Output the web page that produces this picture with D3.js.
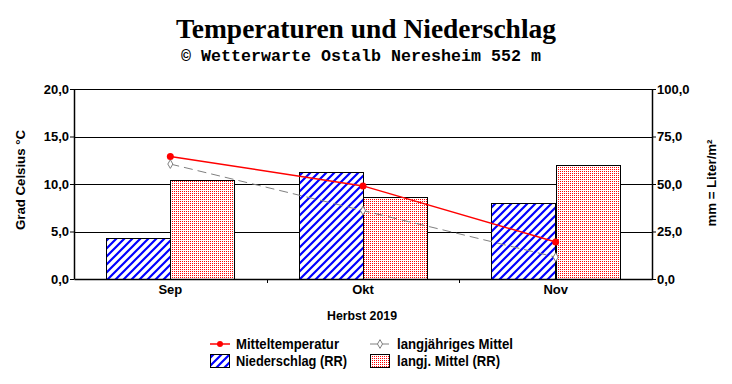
<!DOCTYPE html>
<html>
<head>
<meta charset="utf-8">
<script src="https://cdn.jsdelivr.net/npm/d3@7"></script>
<style>
  body { margin: 0; background: #fff; }
  svg { display: block; }
  text { font-family: "Liberation Sans", Arial, sans-serif; }
</style>
</head>
<body>
<div></div>
<script>
// chart data
const months = ["Sep", "Okt", "Nov"];
const tempMean = [12.9, 9.8, 3.9];       // Mitteltemperatur
const tempLongterm = [12.1, 7.2, 2.3];   // langjähriges Mittel
const rain = [21.5, 56.2, 39.8];         // Niederschlag (RR)
const rainLongterm = [52.0, 43.0, 60.0]; // langj. Mittel (RR)
const tempTicks = [0, 5, 10, 15, 20];
const rainTicks = [0, 25, 50, 75, 100];

const W = 732, H = 384;
const margin = { top: 89, right: 80, bottom: 105, left: 74 },
    width = W - margin.left - margin.right,
    height = H - margin.top - margin.bottom;

const fmt = v => d3.format(".1f")(v).replace(".", ",");

const root = d3.select("body div")
    .append("svg")
    .attr("width", W)
    .attr("height", H);

// patterns for the bars
const defs = root.append("defs");
const hatch = defs.append("pattern")
    .attr("id", "hatch")
    .attr("patternUnits", "userSpaceOnUse")
    .attr("width", 8).attr("height", 8);
hatch.append("rect").attr("width", 8).attr("height", 8).attr("fill", "#fff");
hatch.append("path")
    .attr("d", "M-2,10 L10,-2 M-2,2 L2,-2 M6,10 L10,6")
    .attr("stroke", "#0000ff")
    .attr("stroke-width", 2.2);

// red dot raster, one red pixel in every 2x2 cell
const dots = defs.append("pattern")
    .attr("id", "dots")
    .attr("patternUnits", "userSpaceOnUse")
    .attr("width", 4).attr("height", 4);
dots.append("rect").attr("width", 4).attr("height", 4).attr("fill", "#fff");
dots.append("path")
    .attr("d", "M0,0h1v1h-1zM2,0h1v1h-1zM0,2h1v1h-1zM2,2h1v1h-1z")
    .attr("fill", "#ff0000");

// titles
root.append("text")
    .attr("x", 366).attr("y", 38)
    .attr("text-anchor", "middle")
    .style("font-family", "'Liberation Serif', 'Times New Roman', serif")
    .style("font-weight", "bold")
    .style("font-size", "28px")
    .attr("textLength", 380)
    .attr("lengthAdjust", "spacingAndGlyphs")
    .text("Temperaturen und Niederschlag");

root.append("text")
    .attr("x", 361).attr("y", 61)
    .attr("text-anchor", "middle")
    .style("font-family", "'Liberation Mono', 'Courier New', monospace")
    .style("font-weight", "bold")
    .style("font-size", "16px")
    .attr("textLength", 360)
    .attr("lengthAdjust", "spacingAndGlyphs")
    .text("© Wetterwarte Ostalb Neresheim 552 m");

const svg = root.append("g")
    .attr("transform", `translate(${margin.left},${margin.top})`);

// scales
const x = d3.scaleBand().domain(months).range([0, width]);
const yT = d3.scaleLinear().domain([0, 20]).range([height, 0]);
const yR = d3.scaleLinear().domain([0, 100]).range([height, 0]);

// grid lines
svg.append("g")
    .selectAll("line")
    .data(tempTicks.slice(1))
    .join("line")
    .attr("x1", 0).attr("x2", width)
    .attr("y1", d => Math.round(yT(d)) + 0.5)
    .attr("y2", d => Math.round(yT(d)) + 0.5)
    .attr("stroke", "#000")
    .attr("stroke-width", 1);

// bars: pattern fill on whole pixels, outline drawn on top
const bw = x.bandwidth() / 3;
function bars(values, offset, fill) {
    const g = svg.append("g");
    g.selectAll("rect.fill")
        .data(values)
        .join("rect")
        .attr("class", "fill")
        .attr("x", (d, i) => Math.round(x(months[i]) + offset))
        .attr("y", d => Math.round(yR(d)))
        .attr("width", Math.round(bw))
        .attr("height", d => Math.round(height - yR(d)))
        .attr("fill", fill);
    g.selectAll("rect.edge")
        .data(values)
        .join("rect")
        .attr("class", "edge")
        .attr("x", (d, i) => Math.round(x(months[i]) + offset) + 0.5)
        .attr("y", d => Math.round(yR(d)) + 0.5)
        .attr("width", Math.round(bw))
        .attr("height", d => Math.round(height - yR(d)))
        .attr("fill", "none")
        .attr("stroke", "#000");
}
bars(rain, bw / 2, "url(#hatch)");
bars(rainLongterm, bw * 1.5, "url(#dots)");

// axes
const axL = svg.append("g")
    .call(d3.axisLeft(yT).tickValues(tempTicks).tickFormat(fmt).tickSize(4).tickSizeOuter(0));
const axR = svg.append("g")
    .attr("transform", `translate(${width},0)`)
    .call(d3.axisRight(yR).tickValues(rainTicks).tickFormat(fmt).tickSize(4).tickSizeOuter(0));
const axB = svg.append("g")
    .attr("transform", `translate(0,${height})`)
    .call(d3.axisBottom(x).tickSize(0).tickSizeOuter(0));

[axL, axR, axB].forEach(a => {
    a.select(".domain").attr("stroke", "#000").attr("stroke-width", 1.5);
    a.selectAll("text")
        .style("font-family", "'Liberation Sans', Arial, sans-serif")
        .style("font-weight", "bold")
        .style("font-size", "13px")
        .attr("fill", "#000");
});
axL.selectAll("text").attr("x", -5);
axR.selectAll("text").attr("x", 5);
axB.selectAll("text").attr("y", 6).attr("dy", "0.71em");

// small ticks between categories
svg.append("g")
    .selectAll("line")
    .data(months.slice(1))
    .join("line")
    .attr("x1", d => Math.round(x(d)) + 0.5)
    .attr("x2", d => Math.round(x(d)) + 0.5)
    .attr("y1", height)
    .attr("y2", height + 4)
    .attr("stroke", "#000");

// temperature lines
const line = d3.line()
    .x((d, i) => x(months[i]) + x.bandwidth() / 2)
    .y(d => yT(d));

svg.append("path")
    .datum(tempLongterm)
    .attr("d", line)
    .attr("fill", "none")
    .attr("stroke", "#808080")
    .attr("stroke-width", 1)
    .attr("stroke-dasharray", "9,5");

svg.append("g")
    .selectAll("path")
    .data(tempLongterm)
    .join("path")
    .attr("d", d3.symbol(d3.symbolDiamond, 22))
    .attr("transform", (d, i) => `translate(${x(months[i]) + x.bandwidth() / 2},${yT(d)})`)
    .attr("fill", "#fff")
    .attr("stroke", "#808080");

svg.append("path")
    .datum(tempMean)
    .attr("d", line)
    .attr("fill", "none")
    .attr("stroke", "#ff0000")
    .attr("stroke-width", 1.5);

svg.append("g")
    .selectAll("circle")
    .data(tempMean)
    .join("circle")
    .attr("cx", (d, i) => x(months[i]) + x.bandwidth() / 2)
    .attr("cy", d => yT(d))
    .attr("r", 3.5)
    .attr("fill", "#ff0000");

// axis titles
root.append("text")
    .attr("transform", "translate(25,180) rotate(-90)")
    .attr("text-anchor", "middle")
    .style("font-weight", "bold")
    .style("font-size", "13px")
    .attr("textLength", 100)
    .attr("lengthAdjust", "spacingAndGlyphs")
    .text("Grad Celsius °C");

root.append("text")
    .attr("transform", "translate(716,183) rotate(-90)")
    .attr("text-anchor", "middle")
    .style("font-weight", "bold")
    .style("font-size", "13px")
    .attr("textLength", 87)
    .attr("lengthAdjust", "spacingAndGlyphs")
    .text("mm = Liter/m²");

root.append("text")
    .attr("x", 362)
    .attr("y", 320)
    .attr("text-anchor", "middle")
    .style("font-weight", "bold")
    .style("font-size", "13px")
    .attr("textLength", 70)
    .attr("lengthAdjust", "spacingAndGlyphs")
    .text("Herbst 2019");

// legend
const leg = root.append("g").style("font-weight", "bold").style("font-size", "14px");

leg.append("line").attr("x1", 210).attr("x2", 230).attr("y1", 344).attr("y2", 344)
    .attr("stroke", "#ff0000").attr("stroke-width", 1.5);
leg.append("circle").attr("cx", 220).attr("cy", 344).attr("r", 3).attr("fill", "#ff0000");
leg.append("text").attr("x", 236).attr("y", 349)
    .attr("textLength", 103).attr("lengthAdjust", "spacingAndGlyphs")
    .text("Mitteltemperatur");

leg.append("line").attr("x1", 370).attr("x2", 389).attr("y1", 344).attr("y2", 344)
    .attr("stroke", "#808080");
leg.append("path").attr("d", d3.symbol(d3.symbolDiamond, 22))
    .attr("transform", "translate(380,344)")
    .attr("fill", "#fff").attr("stroke", "#808080");
leg.append("text").attr("x", 397).attr("y", 349)
    .attr("textLength", 116).attr("lengthAdjust", "spacingAndGlyphs")
    .text("langjähriges Mittel");

leg.append("rect").attr("x", 211).attr("y", 355).attr("width", 18).attr("height", 12)
    .attr("fill", "url(#hatch)");
leg.append("rect").attr("x", 210.5).attr("y", 354.5).attr("width", 19).attr("height", 13)
    .attr("fill", "none").attr("stroke", "#000");
leg.append("text").attr("x", 236).attr("y", 366)
    .attr("textLength", 111).attr("lengthAdjust", "spacingAndGlyphs")
    .text("Niederschlag (RR)");

leg.append("rect").attr("x", 371).attr("y", 355).attr("width", 18).attr("height", 12)
    .attr("fill", "url(#dots)");
leg.append("rect").attr("x", 370.5).attr("y", 354.5).attr("width", 19).attr("height", 13)
    .attr("fill", "none").attr("stroke", "#000");
leg.append("text").attr("x", 397).attr("y", 366)
    .attr("textLength", 103).attr("lengthAdjust", "spacingAndGlyphs")
    .text("langj. Mittel (RR)");
</script>
</body>
</html>
